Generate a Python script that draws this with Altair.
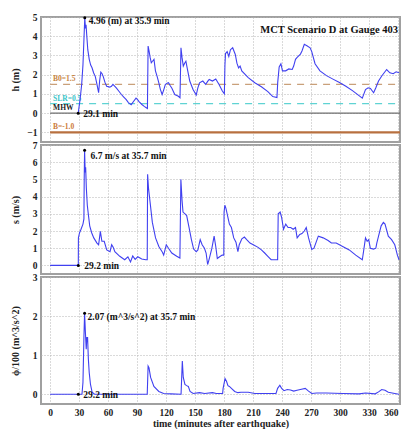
import altair as alt
import pandas as pd

# ---------------- data ----------------
h_t = [29.1, 31, 32.7, 34, 35, 35.9, 36.6, 37.2, 38, 39,
       40.5, 42, 43.4, 45, 46.8, 48.5, 50.2, 51.3, 52.5, 53.8,
       55, 56.8, 58.5, 60.2, 61.8, 63.5, 65, 66.8, 68.7, 71,
       73.8, 76, 78.8, 81, 83.9, 86.5, 88.9, 90.5, 92, 95,
       97.4, 99.5, 100.7, 101.4, 102.5, 103.5, 104.7, 106, 107.5, 109,
       110.8, 112.5, 114, 115.9, 117.5, 119.2, 121, 122.5, 124, 126,
       129, 132.7, 134.4, 135.4, 136.5, 137.8, 139.2, 140.5, 142, 144.5,
       147.9, 151.2, 152.8, 154.6, 158, 161, 163, 164.6, 168, 171.4,
       174.8, 178.2, 180.3, 180.9, 181.5, 183.2, 184.9, 186.6, 188.9, 191.6,
       193.3, 195, 196.6, 198.3, 205, 211.8, 218.6, 225.3, 230.4, 234.7,
       235.5, 237, 238.8, 240.4, 243.7, 247, 250.5, 252, 253.9, 255.6,
       259, 260.6, 263, 265.7, 269, 270.7, 274.1, 279.2, 285.9, 292.6,
       299.4, 306, 312.8, 319.6, 323, 326.3, 329, 331.4, 334.7, 337,
       339.8, 343.1, 348.2, 351.5, 355, 358, 361]
h_v = [0, 0.7, 1.5, 2.5, 3.8, 4.96, 4.4, 4.6, 4.0, 3.3,
       2.8, 2.5, 2.36, 2.1, 1.9, 1.5, 1.06, 1.7, 2.13, 2.05,
       1.9, 1.6, 1.4, 1.38, 1.35, 1.4, 1.5, 1.4, 1.3, 1.15,
       0.97, 0.85, 0.7, 0.55, 0.44, 0.62, 0.78, 0.7, 0.6, 0.45,
       0.35, 0.28, 0.24, 3.49, 3.2, 2.9, 2.62, 2.7, 2.8, 2.2,
       1.9, 1.58, 1.25, 0.97, 1.2, 1.49, 1.55, 1.58, 1.45, 1.3,
       0.97, 0.88, 0.8, 3.4, 2.9, 2.45, 2.6, 2.7, 2.3, 1.67,
       1.23, 0.94, 1.3, 1.58, 1.67, 1.5, 1.65, 1.75, 1.67, 1.78,
       1.49, 1.15, 1.0, 2.5, 3.1, 3.2, 2.95, 3.3, 3.4, 3.05,
       2.6, 2.35, 2.45, 2.2, 1.85, 1.58, 1.37, 1.12, 0.86, 0.81,
       1.6, 2.4, 2.57, 2.2, 2.2, 2.3, 2.27, 2.45, 2.8, 2.9,
       3.07, 3.23, 3.58, 3.5, 3.4, 3.2, 2.57, 2.2, 1.95, 1.77,
       1.59, 1.4, 1.17, 0.91, 0.78, 1.23, 1.32, 1.28, 1.06, 1.32,
       1.67, 1.93, 2.27, 2.1, 2.05, 2.15, 2.1]

s_t = [0, 29.2, 29.3, 30.5, 32, 34, 35, 35.3, 35.7, 36.3,
       36.8, 37.5, 38.5, 39.5, 41, 43, 45.2, 48.5, 50.2, 52,
       53.6, 56, 58.6, 62, 63.7, 65.3, 67, 72.1, 77.2, 80.5,
       83.2, 85.5, 88, 90.7, 94.8, 99, 100.5, 100.9, 101.8, 103.4,
       105.8, 109.1, 112.5, 115.9, 117.5, 120.2, 122.5, 125.9, 131, 134.3,
       135.3, 136.5, 137.5, 139.6, 141.3, 143.8, 146.2, 148.5, 151.2, 152.9,
       155.3, 157.3, 159.7, 161.4, 163, 164.7, 167.4, 169.7, 171.4, 173,
       175.4, 178, 179.7, 180, 180.8, 182, 183.8, 185.5, 187.6, 190,
       192.3, 194.3, 195.7, 198.4, 201, 203.4, 206.8, 210.2, 215.2, 218.6,
       222, 225.3, 228.7, 235.4, 236, 238, 239.5, 241.5, 243.8, 246.2,
       248.9, 251.5, 253.9, 255.6, 258.3, 260.6, 263, 265, 267.4, 270.7,
       273, 277.5, 282.5, 287.6, 291, 296, 302.7, 309.5, 316.2, 323,
       324.6, 326.3, 328, 329.6, 331.3, 334.7, 337, 338, 339.8, 342.5,
       344.8, 346.5, 349.9, 353.3, 356.6, 359.3, 361]
s_v = [0, 0, 1.6, 1.9, 2.1, 2.4, 2.7, 5.0, 6.7, 5.4,
       5.7, 4.5, 3.5, 3.0, 2.3, 1.9, 1.6, 1.3, 1.2, 1.98,
       1.4, 1.4, 0.9, 0.8, 1.2, 1.05, 0.8, 0.53, 0.33, 0.5,
       0.2, 0.55, 0.35, 0.5, 0.37, 0.33, 0.33, 5.3, 4.5, 3.7,
       2.5, 1.6, 1.1, 0.8, 0.6, 1.2, 1.0, 0.72, 0.53, 0.43,
       5.0, 3.8, 3.1, 3.0, 2.9, 2.2, 1.5, 0.95, 0.8, 0.9,
       1.5, 1.2, 1.0, 0.72, 0.05, 0.4, 1.0, 1.7, 1.1, 0.4,
       0.5, 0.6, 0.6, 3.1, 3.5, 3.3, 2.84, 2.4, 2.2, 1.6,
       1.35, 0.8, 1.2, 1.55, 1.65, 1.5, 1.3, 1.2, 1.05, 0.9,
       0.72, 0.53, 0.33, 0.33, 3.0, 3.1, 2.8, 2.1, 2.4, 2.2,
       2.2, 2.1, 2.2, 1.6, 1.8, 1.85, 2.0, 2.2, 1.6, 0.93,
       1.0, 1.7, 1.6, 1.45, 1.3, 1.3, 1.1, 0.9, 0.6, 0.33,
       0.93, 1.6, 1.4, 1.5, 1.0, 0.95, 1.0, 1.3, 1.7, 2.3,
       2.5, 2.4, 1.7, 1.5, 1.2, 0.6, 0.33]

f_t = [0, 33, 34, 35, 35.7, 36.5, 37.4, 38, 38.8, 39.6,
       40.5, 41.8, 43.5, 46, 100.5, 101.4, 102.3, 104, 107.4, 112.5,
       117.5, 125, 135.5, 136.8, 137.8, 139.5, 141.3, 143, 144.8, 148,
       154.6, 160, 168, 172, 178.5, 179, 181, 182.5, 184, 185.5,
       187.6, 191, 194.3, 197.5, 205, 211.8, 233.7, 235.4, 237.7, 239.5,
       242, 245.4, 248.7, 252, 255.5, 258.9, 264, 267.4, 270.7, 275.8,
       285.9, 302.7, 319.6, 326.3, 336.4, 339.8, 343.1, 346.5, 349.9, 356.6,
       361]
f_v = [0, 0, 0.3, 1.45, 2.07, 1.6, 1.15, 1.45, 1.45, 0.9,
       0.55, 0.25, 0.05, 0, 0, 0.72, 0.68, 0.43, 0.2, 0.07,
       0.02, 0.01, 0.0, 0.85, 0.43, 0.25, 0.22, 0.2, 0.07, 0.02,
       0.04, 0.02, 0.04, 0.02, 0.02, 0.15, 0.4, 0.33, 0.22, 0.2,
       0.15, 0.07, 0.04, 0.05, 0.05, 0.02, 0.02, 0.15, 0.23, 0.15,
       0.09, 0.12, 0.11, 0.08, 0.1, 0.12, 0.15, 0.08, 0.02, 0.03,
       0.03, 0.02, 0.01, 0.03, 0.01, 0.06, 0.12, 0.1, 0.05, 0.02,
       0.0]

x_ticks = [0, 30, 60, 90, 120, 150, 180, 210, 240, 270, 300, 330, 360]
h_ticks = [-1, 0, 1, 2, 3, 4, 5]
s_ticks = [0, 1, 2, 3, 4, 5, 6, 7]
f_ticks = [0, 1, 2, 3]

ref_names = ["B0=1.5", "SLR=0.5", "MHW", "B=-1.0"]
ref_vals = [1.5, 0.5, 0.0, -1.0]
ref_start = [0, 0, 0, 0]
ref_end = [362, 362, 362, 362]
ref_colors = ["#c9a07a", "#5fd3d3", "#6e6e6e", "#b8703f"]
ref_label_colors = ["#c8843f", "#38c4c8", "#222222", "#cc7a3a"]
ref_dash = [[7, 6], [7, 6], [1, 0], [1, 0]]
ref_width = [1.3, 1.3, 1.2, 2.2]

peak_t = [35.9, 35.7, 35.7]
peak_v = [4.96, 6.7, 2.07]
peak_text = ["4.96 (m) at 35.9 min", "6.7 m/s at 35.7 min", "2.07 (m^3/s^2) at 35.7 min"]
arr_t = [29.1, 29.2, 29.2]
arr_v = [0, 0, 0]
arr_text = ["29.1 min", "29.2 min", "29.2 min"]

title_text = "MCT Scenario D at Gauge 403"

# ---------------- style ----------------
FONT = "Liberation Serif"
LINE = "#4040f0"
XDOM = [-9.4, 362]
W = 359

def xenc(show):
    if show:
        ax = alt.Axis(values=x_ticks, title="time (minutes after earthquake)", labelFlush=4,
                      labelPadding=3, titlePadding=2)
    else:
        ax = alt.Axis(values=x_ticks, title="", labels=False, minExtent=0, maxExtent=0,
                      titlePadding=0, labelPadding=0)
    return alt.X("t:Q", scale=alt.Scale(domain=XDOM, nice=False, zero=False), axis=ax)

def yenc(dom, ticks, title):
    return alt.Y("v:Q", scale=alt.Scale(domain=dom, nice=False, zero=False),
                 axis=alt.Axis(values=ticks, title=title, minExtent=20, maxExtent=20,
                               labelPadding=4, titlePadding=1))

def panel(idx, t, v, dom, ticks, ytitle, height, show_x, peak_d, arr_d, extra=None):
    X = xenc(show_x)
    Y = yenc(dom, ticks, ytitle)
    df = pd.DataFrame({"t": t, "v": v})
    layers = []
    line = alt.Chart(df).mark_line(color=LINE, strokeWidth=1.1, clip=True).encode(x=X, y=Y)
    if extra:
        layers.extend(extra(X, Y))
    layers.append(line)
    pk = pd.DataFrame({"t": [peak_t[idx]], "v": [peak_v[idx]], "label": [peak_text[idx]]})
    ar = pd.DataFrame({"t": [arr_t[idx]], "v": [arr_v[idx]], "label": [arr_text[idx]]})
    for d in (pk, ar):
        layers.append(alt.Chart(d).mark_circle(color="black", size=9, opacity=1).encode(x=X, y=Y))
    layers.append(alt.Chart(pk).mark_text(align="left", baseline="middle", dx=peak_d[0], dy=peak_d[1],
                                          font=FONT, fontSize=9.5, fontWeight="bold", color="#111")
                  .encode(x=X, y=Y, text="label:N"))
    layers.append(alt.Chart(ar).mark_text(align="left", baseline="middle", dx=arr_d[0], dy=arr_d[1],
                                          font=FONT, fontSize=9.5, fontWeight="bold", color="#111")
                  .encode(x=X, y=Y, text="label:N"))
    return alt.layer(*layers).properties(width=W, height=height)

def h_extra(X, Y):
    out = []
    for i in range(len(ref_names)):
        d = pd.DataFrame({"t": [ref_start[i]], "t2": [ref_end[i]], "v": [ref_vals[i]], "label": [ref_names[i]]})
        out.append(alt.Chart(d).mark_rule(color=ref_colors[i], strokeDash=ref_dash[i],
                                          strokeWidth=ref_width[i], clip=True)
                   .encode(x=X, x2=alt.X2("t2:Q"), y=Y))
        out.append(alt.Chart(d).mark_text(align="left", baseline="middle", dx=3, dy=-5,
                                          font=FONT, fontSize=7.5, fontWeight="bold",
                                          color=ref_label_colors[i])
                   .encode(x=X, y=Y, text="label:N"))
    td = pd.DataFrame({"label": [title_text]})
    out.append(alt.Chart(td).mark_text(align="right", baseline="middle", font=FONT, fontSize=10.5,
                                       fontWeight="bold", color="#111")
               .encode(x=alt.value(W - 2), y=alt.value(13), text="label:N"))
    return out

p1 = panel(0, h_t, h_v, [-1.5, 5], h_ticks, "h (m)", 125, False, (4, 3), (5, 1), h_extra)
p2 = panel(1, s_t, s_v, [-0.5, 7], s_ticks, "s (m/s)", 129, False, (6, 6), (6, 1))
p3 = panel(2, f_t, f_v, [-0.25, 3], f_ticks, "\u03d5/100 (m^3/s^2)", 127, True, (3, 4), (5, 1))

chart = alt.vconcat(p1, p2, p3, spacing=3, bounds="flush").properties(
    padding={"left": 1, "top": 3, "right": 0, "bottom": 0}
).configure_axis(
    labelFont=FONT, labelFontWeight="bold", labelFontSize=9.5, labelColor="#222",
    titleFont=FONT, titleFontWeight="bold", titleFontSize=10, titleColor="#222",
    gridColor="#b5b5b5", gridDash=[1, 2], gridWidth=1, domain=False, ticks=False
).configure_view(stroke="#a0a0a0", strokeWidth=2)

chart.save("out.html", embed_options={"renderer": "svg", "actions": False})
